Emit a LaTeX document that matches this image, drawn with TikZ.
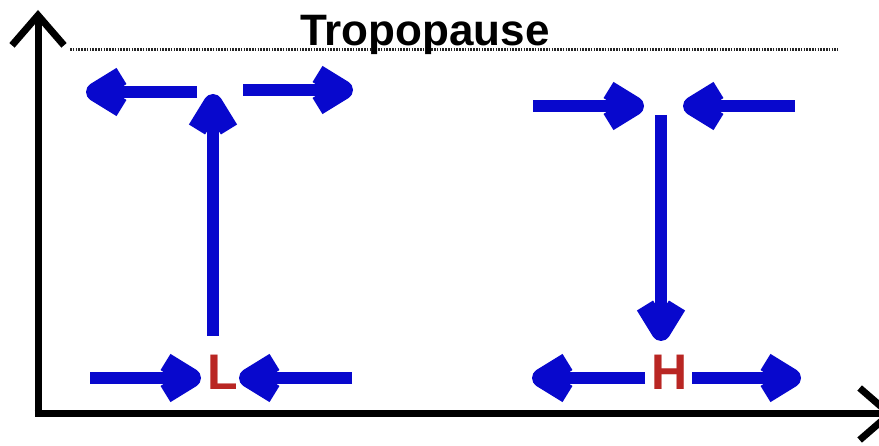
\documentclass[tikz,border=0pt]{standalone}
\usepackage{fontspec}
\setmainfont{Liberation Sans}
\usetikzlibrary{arrows.meta}
\definecolor{flowblue}{RGB}{8,8,205}
\definecolor{lred}{RGB}{185,38,35}
\begin{document}
\begin{tikzpicture}[x=1pt,y=-1pt,
  flow/.style={draw=flowblue, line width=12pt, -{Straight Barb[length=26pt,width=32pt,line width=19pt,line join=round]}},
  axis/.style={line width=7pt, -{Straight Barb[length=30pt,width=52pt]}},
  pressure/.style={font=\fontsize{50}{50}\selectfont\bfseries, text=lred, inner sep=0pt},
  trop/.style={font=\fontsize{44}{44}\selectfont\bfseries, inner sep=0pt, anchor=base}]
\useasboundingbox (0,0) rectangle (879,446);
\fill[white] (0,0) rectangle (879,446);
% axes
\coordinate (O) at (38,414);
\coordinate (ytop) at (38,10);
\coordinate (xend) at (895,414);
\coordinate (xstart) at (34.5,414);
\draw[axis] (O) -- (ytop);
\draw[axis] (xstart) -- (xend);
% tropopause
\coordinate (tl) at (70,50);
\coordinate (tr) at (838,50);
\draw[line width=3pt, dash pattern=on 1.6pt off 1.2pt, black!85] (tl) -- (tr);
\node[trop] (tp) at (425,46) {Tropopause};
% centres
\node[pressure] (L) at (223,372) {L};
\node[pressure] (H) at (670,372) {H};
% left (low) cell
\coordinate (ula) at (197,92);  \coordinate (ulb) at (86,92);
\coordinate (ura) at (243,90);  \coordinate (urb) at (353,90);
\coordinate (upa) at (213,336); \coordinate (upb) at (213,94);
\coordinate (bla) at (90,378);  \coordinate (blb) at (201,378);
\coordinate (bra) at (352,378); \coordinate (brb) at (239,378);
\draw[flow] (ula) -- (ulb);
\draw[flow] (ura) -- (urb);
\draw[flow] (upa) -- (upb);
\draw[flow] (bla) -- (blb);
\draw[flow] (bra) -- (brb);
% right (high) cell
\coordinate (tla) at (533,106); \coordinate (tlb) at (644,106);
\coordinate (tra) at (795,106); \coordinate (trb) at (683,106);
\coordinate (dna) at (661,115); \coordinate (dnb) at (661,341);
\coordinate (hla) at (645,378); \coordinate (hlb) at (532,378);
\coordinate (hra) at (692,378); \coordinate (hrb) at (801,378);
\draw[flow] (tla) -- (tlb);
\draw[flow] (tra) -- (trb);
\draw[flow] (dna) -- (dnb);
\draw[flow] (hla) -- (hlb);
\draw[flow] (hra) -- (hrb);
\end{tikzpicture}
\end{document}
